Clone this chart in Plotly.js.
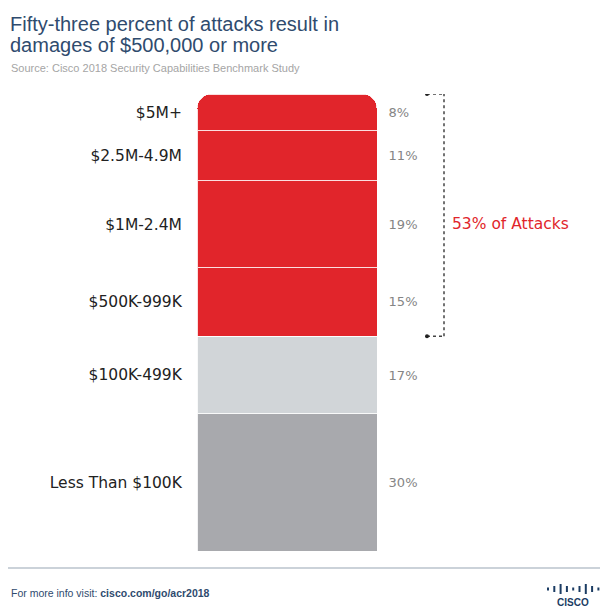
<!DOCTYPE html>
<html>
<head>
<meta charset="utf-8">
<script src="https://cdn.plot.ly/plotly-3.0.1.min.js"></script>
<style>html,body{margin:0;padding:0;background:#fff;}#chart{width:600px;height:608px;}</style>
</head>
<body>
<div id="chart"></div>
<script>
// Data, listed bottom-to-top of the stacked bar
const categories = ["Less Than $100K", "$100K-499K", "$500K-999K", "$1M-2.4M", "$2.5M-4.9M", "$5M+"];
const values = [30, 17, 15, 19, 11, 8];
const colors = ["#A8A9AD", "#D1D5D8", "#E1252B", "#E1252B", "#E1252B", "#E1252B"];
const highlighted = [false, false, true, true, true, true];
const highlightLabelSuffix = "% of Attacks";
const titleLines = ["Fifty-three percent of attacks result in", "damages of $500,000 or more"];
const sourceText = "Source: Cisco 2018 Security Capabilities Benchmark Study";
const footerText = "For more info visit: <b>cisco.com/go/acr2018</b>";

// layout geometry (pixels)
const W = 600, H = 608;
const M = {l: 197, r: 223, t: 94, b: 57};
const plotW = W - M.l - M.r, plotH = H - M.t - M.b;
const xp = px => (px - M.l) / plotW;
const yp = py => (H - M.b - py) / plotH;

// cumulative positions
const total = values.reduce((a, b) => a + b, 0);
const mids = [];
let acc = 0;
values.forEach(v => { mids.push(acc + v / 2); acc += v; });
const hiTotal = values.filter((v, i) => highlighted[i]).reduce((a, b) => a + b, 0);
const hiStart = total - hiTotal;

const traces = categories.map((c, i) => ({
  type: 'bar', x: [0], y: [values[i]], name: c,
  marker: {color: colors[i], line: {color: 'rgba(255,255,255,0.85)', width: 1}},
  hoverinfo: 'skip', showlegend: false
}));
traces.push({type: 'scatter', x: [0], y: [null], yaxis: 'y2', hoverinfo: 'skip', showlegend: false});

const dotted = {color: '#444', width: 1.5, dash: 'dot'};
const shapes = [
  {type: 'line', xref: 'paper', yref: 'y', x0: xp(444), x1: xp(444), y0: hiStart, y1: total, line: dotted},
  {type: 'line', xref: 'paper', yref: 'y', x0: xp(427), x1: xp(444), y0: total, y1: total, line: dotted},
  {type: 'line', xref: 'paper', yref: 'y', x0: xp(427), x1: xp(444), y0: hiStart, y1: hiStart, line: dotted},
  {type: 'circle', xref: 'paper', yref: 'y', xsizemode: 'pixel', ysizemode: 'pixel', xanchor: xp(427), yanchor: total,
   x0: -2, x1: 2, y0: -2, y1: 2, fillcolor: '#222', line: {width: 0}},
  {type: 'circle', xref: 'paper', yref: 'y', xsizemode: 'pixel', ysizemode: 'pixel', xanchor: xp(427), yanchor: hiStart,
   x0: -2, x1: 2, y0: -2, y1: 2, fillcolor: '#222', line: {width: 0}},
  // footer rule
  {type: 'line', xref: 'paper', yref: 'paper', x0: xp(8), x1: xp(600), y0: yp(568), y1: yp(568), line: {color: '#CBD2D9', width: 2}}
];
// cisco logo bars
const logoH = [3, 6, 10, 6, 3, 6, 10, 6, 3];
logoH.forEach((h, i) => {
  const cx = 548 + i * 6.3, cy = 589;
  shapes.push({type: 'rect', xref: 'paper', yref: 'paper', x0: xp(cx - 1), x1: xp(cx + 1),
    y0: yp(cy + h / 2), y1: yp(cy - h / 2), fillcolor: '#1B3C63', line: {width: 0}});
});

const titleFont = {family: 'Liberation Sans, Arial, sans-serif', size: 20, color: '#2F4B6E'};
const annotations = [
  {xref: 'paper', yref: 'paper', x: xp(8), y: yp(24), xanchor: 'left', yanchor: 'middle', text: titleLines[0], showarrow: false, font: titleFont},
  {xref: 'paper', yref: 'paper', x: xp(8), y: yp(45), xanchor: 'left', yanchor: 'middle', text: titleLines[1], showarrow: false, font: titleFont},
  {xref: 'paper', yref: 'paper', x: xp(9), y: yp(68.5), xanchor: 'left', yanchor: 'middle', text: sourceText, showarrow: false,
   font: {family: 'Liberation Sans, Arial, sans-serif', size: 11, color: '#A5A5A5'}},
  {xref: 'paper', yref: 'y', x: xp(450), y: mids[3], xanchor: 'left', yanchor: 'middle', text: hiTotal + highlightLabelSuffix, showarrow: false,
   font: {family: 'DejaVu Sans, sans-serif', size: 15.5, color: '#E1252B'}},
  {xref: 'paper', yref: 'paper', x: xp(9), y: yp(593), xanchor: 'left', yanchor: 'middle', text: footerText, showarrow: false,
   font: {family: 'Liberation Sans, Arial, sans-serif', size: 10.5, color: '#2F4B6E'}},
  {xref: 'paper', yref: 'paper', x: xp(573), y: yp(595), xanchor: 'center', yanchor: 'top', text: '<b>CISCO</b>', showarrow: false,
   font: {family: 'Liberation Sans, Arial, sans-serif', size: 10, color: '#1B3C63'}}
];

const layout = {
  width: W, height: H,
  margin: M,
  paper_bgcolor: '#fff', plot_bgcolor: '#fff',
  barmode: 'stack', bargap: 0, barcornerradius: 15,
  xaxis: {range: [-0.5, 0.5], visible: false, fixedrange: true},
  yaxis: {range: [0, total], tickvals: mids, ticktext: categories, ticks: 'outside', ticklen: 11, tickcolor: 'rgba(0,0,0,0)',
    showgrid: false, zeroline: false, showline: false, fixedrange: true,
    tickfont: {family: 'DejaVu Sans, sans-serif', size: 15.5, color: '#222222'}},
  yaxis2: {overlaying: 'y', side: 'right', range: [0, total], tickvals: mids, ticktext: values.map(v => v + '%'),
    ticks: 'outside', ticklen: 8, tickcolor: 'rgba(0,0,0,0)', showgrid: false, zeroline: false, showline: false, fixedrange: true,
    tickfont: {family: 'DejaVu Sans, sans-serif', size: 13, color: '#858585'}},
  shapes: shapes,
  annotations: annotations,
  showlegend: false
};

Plotly.newPlot('chart', traces, layout, {displayModeBar: false, staticPlot: true});
</script>
</body>
</html>
